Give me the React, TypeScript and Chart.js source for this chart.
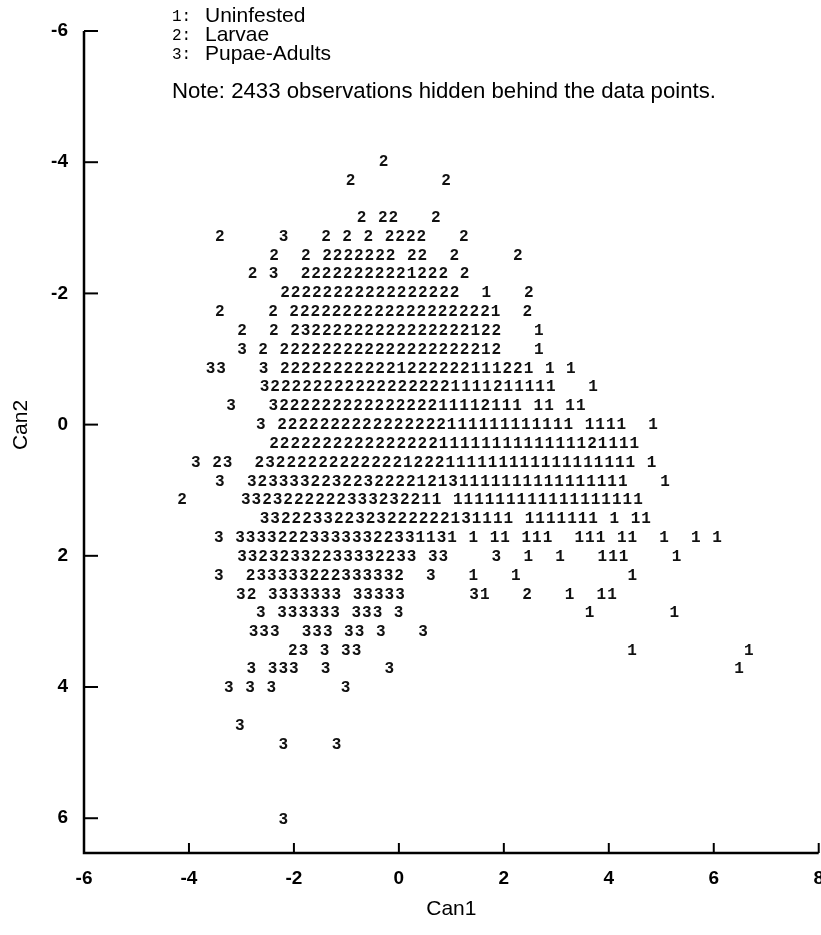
import React, { useEffect, useRef } from 'react';
import { Chart, registerables } from 'chart.js';

Chart.register(...registerables);

// ---- axes ----
const can1Ticks = [-6, -4, -2, 0, 2, 4, 6, 8];
const can2Ticks = [-6, -4, -2, 0, 2, 4, 6];

// ---- groups / legend ----
const groupCodes = ['1', '2', '3'];
const groupNames = ['Uninfested', 'Larvae', 'Pupae-Adults'];
const noteText = 'Note: 2433 observations hidden behind the data points.';

// width (in Can1 units) of one character cell of the line-printer style plot
const COL_STEP = 0.202;

// Can2 value of every printed row (top to bottom)
const rowCan2 = [
  -4.01, -3.72, -3.15, -2.86, -2.57, -2.29, -2.0, -1.71, -1.43, -1.14,
  -0.85, -0.57, -0.28, 0.01, 0.29, 0.58, 0.87, 1.15, 1.44, 1.73,
  2.01, 2.3, 2.59, 2.87, 3.16, 3.45, 3.73, 4.02, 4.59, 4.88, 6.03,
];

// Can1 value of the first character cell of each row
const rowCan1Start = [
  -0.29, -0.92, -0.71, -3.41, -2.38, -2.79, -2.17, -3.41, -2.99, -2.99,
  -3.59, -2.56, -3.2, -2.63, -2.38, -3.87, -3.41, -4.13, -2.56, -3.43,
  -2.99, -3.43, -3.01, -2.63, -2.77, -2.02, -2.81, -3.24, -3.03, -2.2, -2.2,
];

// printed group codes of each row: [cell offset, characters]
const rowMarks: [number, string][][] = [
  [[0, '2']],
  [[0, '2'], [9, '2']],
  [[0, '2 22   2']],
  [[0, '2'], [6, '3'], [10, '2 2 2 2222'], [23, '2']],
  [[0, '2'], [3, '2'], [5, '2222222 22'], [17, '2'], [23, '2']],
  [[0, '2 3'], [5, '22222222221222'], [20, '2']],
  [[0, '22222222222222222'], [19, '1'], [23, '2']],
  [[0, '2'], [5, '2'], [7, '22222222222222222221'], [29, '2']],
  [[0, '2'], [3, '2'], [5, '23222222222222222122'], [28, '1']],
  [[0, '3'], [2, '2'], [4, '222222222222222222212'], [28, '1']],
  [[0, '33'], [5, '3'], [7, '222222222221222222111221'], [32, '1'], [34, '1']],
  [[0, '3222222222222222221111211111'], [31, '1']],
  [[0, '3'], [4, '322222222222222211112111'], [29, '11'], [32, '11']],
  [[0, '3'], [2, '2222222222222222111111111111'], [31, '1111'], [37, '1']],
  [[0, '22222222222222221111111111111121111']],
  [[0, '3'], [2, '23'], [6, '232222222222221222111111111111111111'], [43, '1']],
  [[0, '3'], [3, '323333223223222212131111111111111111'], [42, '1']],
  [[0, '2'], [6, '3323222222333232211'], [26, '111111111111111111']],
  [[0, '332223322323222222131111'], [25, '1111111'], [33, '1'], [35, '11']],
  [[0, '3'], [2, '333322233333322331131'], [24, '1'], [26, '11'], [29, '111'], [34, '111'], [38, '11'], [42, '1'], [45, '1'], [47, '1']],
  [[0, '33232332233332233'], [18, '33'], [24, '3'], [27, '1'], [30, '1'], [34, '111'], [41, '1']],
  [[0, '3'], [3, '233333222333332'], [20, '3'], [24, '1'], [28, '1'], [39, '1']],
  [[0, '32'], [3, '3333333'], [11, '33333'], [22, '31'], [27, '2'], [31, '1'], [34, '11']],
  [[0, '3'], [2, '333333'], [9, '333'], [13, '3'], [31, '1'], [39, '1']],
  [[0, '333'], [5, '333'], [9, '33'], [12, '3'], [16, '3']],
  [[0, '23'], [3, '3'], [5, '33'], [32, '1'], [43, '1']],
  [[0, '3'], [2, '333'], [7, '3'], [13, '3'], [46, '1']],
  [[0, '3'], [2, '3'], [4, '3'], [11, '3']],
  [[0, '3']],
  [[0, '3'], [5, '3']],
  [[0, '3']],
];

const SANS = "'Liberation Sans', Arial, Helvetica, sans-serif";
const MONO = "'Liberation Mono', 'Courier New', monospace";

function buildPoints(code: string) {
  const pts: { x: number; y: number }[] = [];
  rowMarks.forEach((segs, r) => {
    segs.forEach(([col, text]) => {
      for (let i = 0; i < text.length; i++) {
        if (text[i] === code) {
          pts.push({ x: rowCan1Start[r] + (col + i) * COL_STEP, y: rowCan2[r] });
        }
      }
    });
  });
  return pts;
}

const markPlugin = {
  id: 'markText',
  afterDatasetsDraw(chart: any) {
    const ctx = chart.ctx;
    ctx.save();
    ctx.font = `bold 16px ${MONO}`;
    ctx.fillStyle = '#111';
    ctx.textAlign = 'center';
    ctx.textBaseline = 'middle';
    chart.data.datasets.forEach((ds: any, di: number) => {
      const meta = chart.getDatasetMeta(di);
      meta.data.forEach((el: any) => {
        ctx.fillText(groupCodes[di], el.x, el.y);
      });
    });
    ctx.restore();
  },
};

const framePlugin = {
  id: 'frameAndText',
  afterDraw(chart: any) {
    const { ctx, chartArea, scales } = chart;
    const xs = scales.x;
    const ys = scales.y;
    const left = chartArea.left;
    const bottom = chartArea.bottom;
    ctx.save();
    ctx.strokeStyle = '#000';
    ctx.lineCap = 'butt';
    // axes
    ctx.lineWidth = 2.5;
    ctx.beginPath();
    ctx.moveTo(left, ys.getPixelForValue(-6));
    ctx.lineTo(left, bottom);
    ctx.lineTo(xs.getPixelForValue(8), bottom);
    ctx.stroke();
    // inward ticks
    ctx.lineWidth = 2;
    can2Ticks.forEach((v) => {
      const y = ys.getPixelForValue(v);
      ctx.beginPath();
      ctx.moveTo(left, y);
      ctx.lineTo(left + 14, y);
      ctx.stroke();
    });
    can1Ticks.forEach((v) => {
      const x = xs.getPixelForValue(v);
      ctx.beginPath();
      ctx.moveTo(x, bottom);
      ctx.lineTo(x, bottom - 10);
      ctx.stroke();
    });

    // y axis title
    ctx.fillStyle = '#000';
    ctx.save();
    ctx.translate(21, 425);
    ctx.rotate(-Math.PI / 2);
    ctx.font = `21px ${SANS}`;
    ctx.textAlign = 'center';
    ctx.textBaseline = 'middle';
    ctx.fillText('Can2', 0, 0);
    ctx.restore();

    // legend
    const legendY = [16, 35, 54];
    groupCodes.forEach((code, i) => {
      ctx.font = `16px ${MONO}`;
      ctx.textAlign = 'left';
      ctx.textBaseline = 'middle';
      ctx.fillText(code + ':', 172, legendY[i] + 1);
      ctx.font = `21px ${SANS}`;
      ctx.fillText(groupNames[i], 205, legendY[i]);
    });
    ctx.font = `22.2px ${SANS}`;
    ctx.fillText(noteText, 172, 92);
    ctx.restore();
  },
};

export default function App() {
  const canvasRef = useRef<HTMLCanvasElement | null>(null);

  useEffect(() => {
    if (!canvasRef.current) return;
    const datasets = groupCodes.map((code, i) => ({
      label: groupNames[i],
      data: buildPoints(code),
      pointRadius: 0,
      pointHoverRadius: 0,
      showLine: false,
    }));
    const chart = new Chart(canvasRef.current, {
      type: 'scatter',
      data: { datasets },
      options: {
        responsive: false,
        animation: false,
        events: [],
        layout: { padding: { top: 31, right: 4, left: 0, bottom: 0 } },
        plugins: {
          legend: { display: false },
          tooltip: { enabled: false },
        },
        scales: {
          x: {
            type: 'linear',
            min: -6,
            max: 8,
            afterBuildTicks: (s: any) => {
              s.ticks = can1Ticks.map((v) => ({ value: v }));
            },
            afterFit: (s: any) => {
              s.height = 82;
            },
            grid: { display: false, drawTicks: false },
            border: { display: false },
            ticks: {
              color: '#000',
              font: { family: SANS, size: 19, weight: 'bold' },
              padding: 14,
              maxRotation: 0,
              autoSkip: false,
            },
            title: {
              display: true,
              text: 'Can1',
              color: '#000',
              font: { family: SANS, size: 21 },
              padding: { top: 0, bottom: 13 },
            },
          },
          y: {
            type: 'linear',
            reverse: true,
            min: -6,
            max: 6.53,
            afterBuildTicks: (s: any) => {
              s.ticks = can2Ticks.map((v) => ({ value: v }));
            },
            afterFit: (s: any) => {
              s.width = 84;
            },
            grid: { display: false, drawTicks: false },
            border: { display: false },
            ticks: {
              color: '#000',
              font: { family: SANS, size: 19, weight: 'bold' },
              padding: 16,
              autoSkip: false,
            },
          },
        },
      } as any,
      plugins: [markPlugin, framePlugin],
    });
    return () => chart.destroy();
  }, []);

  return (
    <div style={{ position: 'absolute', left: 0, top: 0, width: 821, height: 935, overflow: 'hidden', background: '#fff' }}>
      <canvas ref={canvasRef} width={838} height={935} style={{ display: 'block' }} />
    </div>
  );
}
